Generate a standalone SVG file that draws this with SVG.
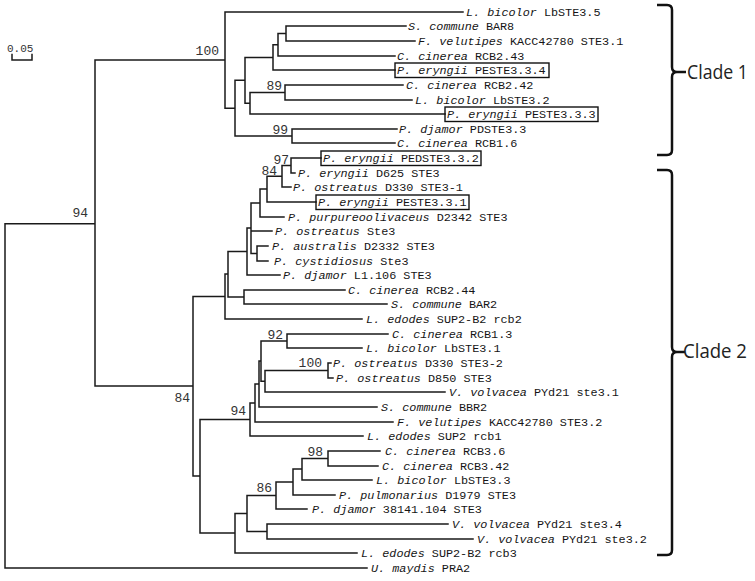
<svg xmlns="http://www.w3.org/2000/svg" width="755" height="581" viewBox="0 0 755 581">
<style>
.br{fill:none;stroke:#1a1a1a;stroke-width:1.5;stroke-linecap:square}
.lf{font-family:"Liberation Mono","Courier New",monospace;font-size:11.8px;fill:#151515}
.i{font-style:italic}
.bs{font-family:"Liberation Mono","Courier New",monospace;font-size:13px;fill:#333;text-anchor:end}
.box{fill:none;stroke:#111;stroke-width:1.4}
.brace{fill:none;stroke:#111;stroke-width:2.5;stroke-linejoin:round}
.cl{font-family:"Open Sans","Noto Sans","Liberation Sans",sans-serif;font-size:20px;fill:#222}
</style>
<rect width="755" height="581" fill="#fff"/>

<g id="scale">
<text x="7" y="52" font-family="Liberation Mono, monospace" font-size="11px" fill="#333">0.05</text>
<path class="br" d="M12,54.5 V60 H32 V54.5" stroke-width="1.3"/>
</g>

<g id="connectors">
<path class="br" d="
M5,223.8 V568 M5,223.8 H95 M5,568 H367
M95,60.1 V386 M95,60.1 H225 M95,386 H193
M225,12 V108.2 M225,12 H463 M225,108.2 H235
M235,80.3 V136 M235,80.3 H245 M235,136 H292
M245,57.4 V103.2 M245,57.4 H273 M245,103.2 H250
M273,44.8 V70 M273,44.8 H278 M273,70 H395
M278,33.5 V56 M278,33.5 H286 M278,56 H395
M286,26 V41 M286,26 H406 M286,41 H415
M250,92.5 V114 M250,92.5 H285 M250,114 H445
M285,85 V100 M285,85 H403 M285,100 H412
M292,129 V143 M292,129 H397 M292,143 H395
M193,296.5 V476 M193,296.5 H225 M193,476 H200
M225,274 V319 M225,274 H228 M225,319 H362
M228,251.5 V297 M228,251.5 H247 M228,297 H244
M244,290 V304 M244,290 H345 M244,304 H387
M247,228 V275 M247,228 H251 M247,275 H280
M251,203 V253.5 M251,203 H260 M251,231 H272 M251,253.5 H257
M257,246 V261 M257,246 H268 M257,261 H268
M260,189 V217 M260,189 H267 M260,217 H284
M267,176.2 V202 M267,176.2 H282 M267,202 H316
M282,165.5 V187 M282,165.5 H291 M282,187 H291
M291,158 V173 M291,158 H321 M291,173 H295
M200,419.5 V533 M200,419.5 H250 M200,533 H235
M250,403 V436 M250,403 H255 M250,436 H363
M255,384 V422 M255,384 H259 M255,422 H393
M259,361 V407 M259,361 H261 M259,407 H377
M261,341 V381.2 M261,341 H287 M261,381.2 H265
M287,334 V348 M287,334 H388 M287,348 H362
M265,370.5 V392 M265,370.5 H328 M265,392 H445
M328,363 V378 M328,363 H331 M328,378 H333
M235,513.5 V553 M235,513.5 H247 M235,553 H357
M247,495.5 V531.5 M247,495.5 H276 M247,531.5 H267
M267,524 V539 M267,524 H448 M267,539 H473
M276,482 V509 M276,482 H293 M276,509 H307
M293,469 V495 M293,469 H302 M293,495 H335
M302,458.5 V480 M302,458.5 H328 M302,480 H372
M328,451 V466 M328,451 H380 M328,466 H378
"/>
</g>

<g id="support">
<text class="bs" x="219" y="55">100</text>
<text class="bs" x="282" y="90">89</text>
<text class="bs" x="288" y="134">99</text>
<text class="bs" x="88" y="216.5">94</text>
<text class="bs" x="289" y="163.5">97</text>
<text class="bs" x="277" y="174.5">84</text>
<text class="bs" x="283" y="338.5">92</text>
<text class="bs" x="322" y="367">100</text>
<text class="bs" x="246" y="415">94</text>
<text class="bs" x="190" y="401.5">84</text>
<text class="bs" x="323" y="455.5">98</text>
<text class="bs" x="272" y="491.5">86</text>
</g>

<g id="leaf-00"><text class="lf" x="466" y="16"><tspan class="i">L. bicolor</tspan> LbSTE3.5</text></g>
<g id="leaf-01"><text class="lf" x="408" y="30"><tspan class="i">S. commune</tspan> BAR8</text></g>
<g id="leaf-02"><text class="lf" x="418" y="45"><tspan class="i">F. velutipes</tspan> KACC42780 STE3.1</text></g>
<g id="leaf-03"><text class="lf" x="397" y="60"><tspan class="i">C. cinerea</tspan> RCB2.43</text></g>
<g id="leaf-04"><rect class="box" x="395" y="63" width="154" height="14.5"/><text class="lf" x="397" y="74"><tspan class="i">P. eryngii</tspan> PESTE3.3.4</text></g>
<g id="leaf-05"><text class="lf" x="406" y="89"><tspan class="i">C. cinerea</tspan> RCB2.42</text></g>
<g id="leaf-06"><text class="lf" x="415" y="104"><tspan class="i">L. bicolor</tspan> LbSTE3.2</text></g>
<g id="leaf-07"><rect class="box" x="445" y="107" width="153" height="14.5"/><text class="lf" x="447" y="118"><tspan class="i">P. eryngii</tspan> PESTE3.3.3</text></g>
<g id="leaf-08"><text class="lf" x="399" y="133"><tspan class="i">P. djamor</tspan> PDSTE3.3</text></g>
<g id="leaf-09"><text class="lf" x="397" y="147"><tspan class="i">C. cinerea</tspan> RCB1.6</text></g>
<g id="leaf-10"><rect class="box" x="321" y="151" width="160" height="14.5"/><text class="lf" x="323" y="162"><tspan class="i">P. eryngii</tspan> PEDSTE3.3.2</text></g>
<g id="leaf-11"><text class="lf" x="298" y="177"><tspan class="i">P. eryngii</tspan> D625 STE3</text></g>
<g id="leaf-12"><text class="lf" x="293" y="191"><tspan class="i">P. ostreatus</tspan> D330 STE3-1</text></g>
<g id="leaf-13"><rect class="box" x="316" y="195" width="153" height="14.5"/><text class="lf" x="318" y="206"><tspan class="i">P. eryngii</tspan> PESTE3.3.1</text></g>
<g id="leaf-14"><text class="lf" x="288" y="221"><tspan class="i">P. purpureoolivaceus</tspan> D2342 STE3</text></g>
<g id="leaf-15"><text class="lf" x="275" y="235"><tspan class="i">P. ostreatus</tspan> Ste3</text></g>
<g id="leaf-16"><text class="lf" x="272" y="250"><tspan class="i">P. australis</tspan> D2332 STE3</text></g>
<g id="leaf-17"><text class="lf" x="274" y="265"><tspan class="i">P. cystidiosus</tspan> Ste3</text></g>
<g id="leaf-18"><text class="lf" x="283" y="279"><tspan class="i">P. djamor</tspan> L1.106 STE3</text></g>
<g id="leaf-19"><text class="lf" x="348" y="294"><tspan class="i">C. cinerea</tspan> RCB2.44</text></g>
<g id="leaf-20"><text class="lf" x="391" y="308"><tspan class="i">S. commune</tspan> BAR2</text></g>
<g id="leaf-21"><text class="lf" x="366" y="323"><tspan class="i">L. edodes</tspan> SUP2-B2 rcb2</text></g>
<g id="leaf-22"><text class="lf" x="392" y="338"><tspan class="i">C. cinerea</tspan> RCB1.3</text></g>
<g id="leaf-23"><text class="lf" x="366" y="352"><tspan class="i">L. bicolor</tspan> LbSTE3.1</text></g>
<g id="leaf-24"><text class="lf" x="333" y="367"><tspan class="i">P. ostreatus</tspan> D330 STE3-2</text></g>
<g id="leaf-25"><text class="lf" x="336" y="382"><tspan class="i">P. ostreatus</tspan> D850 STE3</text></g>
<g id="leaf-26"><text class="lf" x="449" y="396"><tspan class="i">V. volvacea</tspan> PYd21 ste3.1</text></g>
<g id="leaf-27"><text class="lf" x="381" y="411"><tspan class="i">S. commune</tspan> BBR2</text></g>
<g id="leaf-28"><text class="lf" x="397" y="426"><tspan class="i">F. velutipes</tspan> KACC42780 STE3.2</text></g>
<g id="leaf-29"><text class="lf" x="367" y="440"><tspan class="i">L. edodes</tspan> SUP2 rcb1</text></g>
<g id="leaf-30"><text class="lf" x="385" y="455"><tspan class="i">C. cinerea</tspan> RCB3.6</text></g>
<g id="leaf-31"><text class="lf" x="382" y="470"><tspan class="i">C. cinerea</tspan> RCB3.42</text></g>
<g id="leaf-32"><text class="lf" x="376" y="484"><tspan class="i">L. bicolor</tspan> LbSTE3.3</text></g>
<g id="leaf-33"><text class="lf" x="339" y="499"><tspan class="i">P. pulmonarius</tspan> D1979 STE3</text></g>
<g id="leaf-34"><text class="lf" x="312" y="513"><tspan class="i">P. djamor</tspan> 38141.104 STE3</text></g>
<g id="leaf-35"><text class="lf" x="452" y="528"><tspan class="i">V. volvacea</tspan> PYd21 ste3.4</text></g>
<g id="leaf-36"><text class="lf" x="477" y="543"><tspan class="i">V. volvacea</tspan> PYd21 ste3.2</text></g>
<g id="leaf-37"><text class="lf" x="361" y="557"><tspan class="i">L. edodes</tspan> SUP2-B2 rcb3</text></g>
<g id="leaf-38"><text class="lf" x="371" y="572"><tspan class="i">U. maydis</tspan> PRA2</text></g>

<g id="clade1">
<path class="brace" d="M657,5 H667 Q672,5 672,10 V67 Q672,72 677,72 H686 M677,72 Q672,72 672,77 V150 Q672,155 667,155 H657"/>
<text class="cl" x="687" y="79" textLength="61" lengthAdjust="spacingAndGlyphs">Clade 1</text>
</g>
<g id="clade2">
<path class="brace" d="M657,170 H667 Q672,170 672,175 V347 Q672,352 677,352 H685 M677,352 Q672,352 672,357 V550 Q672,555 667,555 H657"/>
<text class="cl" x="683" y="358" textLength="64" lengthAdjust="spacingAndGlyphs">Clade 2</text>
</g>
</svg>
